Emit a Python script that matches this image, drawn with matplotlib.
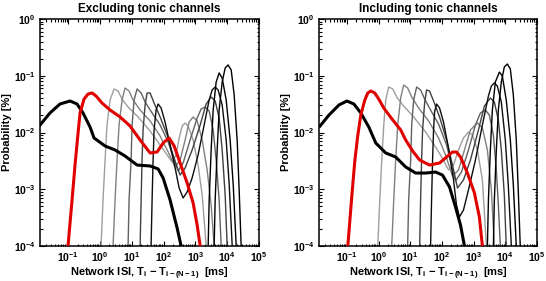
"""
Network ISI distributions, with and without tonic channels.
"""

import matplotlib
matplotlib.use('Agg')
import matplotlib.pyplot as plt
from matplotlib.ticker import FixedLocator, FixedFormatter, LogLocator, NullFormatter

plt.rcParams['font.family'] = ['Liberation Sans', 'DejaVu Sans']
plt.rcParams['font.weight'] = 'bold'
plt.rcParams['mathtext.fontset'] = 'custom'
plt.rcParams['mathtext.rm'] = 'Liberation Sans:bold'
plt.rcParams['mathtext.it'] = 'Liberation Sans:bold'
plt.rcParams['mathtext.bf'] = 'Liberation Sans:bold'

titles = ['Excluding tonic channels', 'Including tonic channels']
x_ticks = [1e-1, 1e0, 1e1, 1e2, 1e3, 1e4, 1e5]
x_tick_labels = ['$10^{-1}$', '$10^{0}$', '$10^{1}$', '$10^{2}$', '$10^{3}$', '$10^{4}$', '$10^{5}$']
y_ticks = [1e-4, 1e-3, 1e-2, 1e-1, 1e0]
y_tick_labels = ['$10^{-4}$', '$10^{-3}$', '$10^{-2}$', '$10^{-1}$', '$10^{0}$']

# ---- Excluding tonic channels ----
black_ex_x = [0.0132, 0.0272, 0.0561, 0.116, 0.192, 0.296, 0.492, 0.658, 1.46, 3.01, 6.21,
              14.8, 37.9, 67.8, 97.3, 161, 268, 358]
black_ex_y = [0.01355, 0.0221, 0.0318, 0.0359, 0.0318, 0.0221, 0.0125, 0.0080, 0.00578, 0.00492,
              0.00385, 0.00267, 0.00257, 0.00228, 0.00158, 6.47e-4, 2.07e-4, 1e-4]

red_ex_x = [0.100, 0.134, 0.166, 0.207, 0.239, 0.319, 0.426, 0.569, 0.760, 1.17, 2.09, 4.32,
            8.91, 18.4, 37.9, 63.0, 97.3, 150, 216, 333, 553, 853, 1140, 1420]
red_ex_y = [1e-4, 6.47e-4, 2.67e-3, 9.8e-3, 0.0221, 0.0389, 0.0476, 0.0497, 0.0440, 0.0331,
            0.0249, 0.0188, 0.0130, 0.00738, 0.00436, 0.00453, 0.00653, 0.0080, 0.00578,
            0.00290, 0.00129, 5.73e-4, 2.34e-4, 1e-4]

gray_ex_x = [
    [1.09, 1.26, 1.46, 1.68, 2.09, 2.80, 3.73, 4.99, 7.70, 15.9, 37.9, 78.2, 130, 186, 249, 310,
     385, 478, 594, 853, 1220, 1640, 2190],
    [2.60, 3.01, 3.47, 4.02, 4.99, 6.19, 8.28, 11.1, 18.4, 37.9, 78.2, 140, 232, 333, 478, 638,
     853, 1140, 1640, 2350, 3140, 3900],
    [7.71, 8.28, 9.58, 10.3, 11.9, 14.8, 19.8, 26.4, 43.8, 78.2, 140, 215, 288, 413, 686, 1140,
     1520, 2030, 2720, 3630, 4510, 5600, 6480],
    [18.4, 19.8, 21.2, 22.8, 26.4, 30.5, 37.9, 50.6, 78.2, 130, 200, 268, 333, 478, 792, 1420,
     2190, 3140, 4200, 5600, 6970, 8650, 10000],
    [40.7, 43.8, 47.1, 50.6, 58.5, 67.6, 84.1, 112, 161, 232, 310, 413, 552, 792, 1220, 1890,
     2720, 3370, 4200, 5210, 6970, 9310, 11600, 14400],
    [2530, 2720, 3140, 3630, 4510, 5600, 6970, 9310, 12400, 15500, 19200],
    [3900, 4200, 4850, 5600, 6970, 8650, 10700, 13400, 16600, 20600, 23800, 27500],
]
gray_ex_y = [
    [1e-4, 6.47e-4, 3.27e-3, 0.01355, 0.0374, 0.0585, 0.0539, 0.0389, 0.0281, 0.0188, 0.0106,
     6.02e-3, 4.01e-3, 3.02e-3, 4.01e-3, 8.0e-3, 0.0130, 0.0147, 0.0130, 7.38e-3, 2.67e-3,
     7.92e-4, 1e-4],
    [1e-4, 6.47e-4, 3.27e-3, 0.01355, 0.0374, 0.0608, 0.0539, 0.0374, 0.0249, 0.0160, 8.67e-3,
     4.53e-3, 2.47e-3, 3.27e-3, 7.38e-3, 0.0153, 0.0188, 0.0160, 7.38e-3, 2.18e-3, 5.28e-4, 1e-4],
    [1e-4, 6.47e-4, 3.27e-3, 0.01355, 0.0374, 0.0585, 0.0497, 0.0345, 0.0221, 0.01355, 6.8e-3,
     3.27e-3, 2.10e-3, 2.90e-3, 7.38e-3, 0.0180, 0.0259, 0.0281, 0.0239, 0.0111, 3.27e-3,
     6.47e-4, 1e-4],
    [1e-4, 6.47e-4, 3.27e-3, 0.0111, 0.0305, 0.0497, 0.0497, 0.0331, 0.0188, 9.04e-3, 4.01e-3,
     2.47e-3, 1.78e-3, 2.37e-3, 4.92e-3, 0.01355, 0.0318, 0.0422, 0.0359, 0.0180, 4.92e-3,
     7.92e-4, 1e-4],
    [1e-4, 6.47e-4, 3.27e-3, 0.0111, 0.0249, 0.0318, 0.0270, 0.0153, 6.02e-3, 2.37e-3, 1.05e-3,
     7.01e-4, 8.95e-4, 1.58e-3, 4.01e-3, 0.01355, 0.0374, 0.0561, 0.0633, 0.0561, 0.0305,
     7.38e-3, 1.19e-3, 1e-4],
    [1e-4, 6.47e-4, 4.92e-3, 0.0249, 0.0776, 0.112, 0.0913, 0.0374, 7.38e-3, 1.19e-3, 1e-4],
    [1e-4, 6.47e-4, 4.92e-3, 0.0249, 0.0776, 0.137, 0.155, 0.126, 0.0458, 7.38e-3, 9.7e-4, 1e-4],
]

# ---- Including tonic channels ----
black_in_x = [0.0142, 0.0272, 0.0560, 0.100, 0.166, 0.275, 0.492, 0.816, 1.68, 3.47, 7.16,
              14.8, 30.5, 63.0, 104, 173, 268, 385, 514]
black_in_y = [0.0130, 0.0203, 0.0305, 0.0359, 0.0318, 0.0221, 0.0125, 6.53e-3, 4.36e-3, 3.70e-3,
              2.47e-3, 1.93e-3, 1.93e-3, 2.01e-3, 1.78e-3, 1.10e-3, 4.87e-4, 2.34e-4, 1e-4]

red_in_x = [0.107, 0.144, 0.179, 0.222, 0.275, 0.368, 0.457, 0.569, 0.760, 1.01, 1.46, 2.80,
            4.99, 7.16, 11.9, 19.8, 40.7, 84.1, 140, 215, 288, 385, 638, 1060, 1520, 1890]
red_in_y = [1e-4, 7.92e-4, 3.27e-3, 9.04e-3, 0.0203, 0.0374, 0.0497, 0.0539, 0.0497, 0.0389,
            0.0270, 0.0166, 0.0111, 7.38e-3, 4.72e-3, 3.27e-3, 2.67e-3, 2.90e-3, 3.70e-3,
            4.53e-3, 4.53e-3, 3.70e-3, 1.93e-3, 8.59e-4, 3.24e-4, 1e-4]

gray_in_x = [
    [0.944, 1.09, 1.26, 1.46, 1.68, 2.09, 2.80, 3.73, 6.19, 12.8, 30.5, 63.0, 112, 161, 232, 333,
     478, 686, 916, 1320, 1890, 2530],
    [2.60, 3.01, 3.47, 4.02, 4.99, 6.19, 8.28, 11.1, 18.4, 37.9, 78.2, 130, 215, 333, 514, 792,
     1320, 1890, 2720, 3630, 4510],
    [8.28, 8.91, 10.3, 11.1, 12.8, 15.9, 21.2, 28.4, 43.8, 78.2, 140, 200, 268, 413, 686, 1140,
     1640, 2350, 3140, 4200, 5210, 6030, 6970],
    [19.8, 21.2, 22.8, 24.5, 28.4, 32.8, 40.7, 54.4, 84.1, 140, 215, 310, 478, 792, 1420, 2190,
     3370, 4510, 6030, 7480, 9310, 10700],
    [43.8, 47.1, 50.6, 54.4, 58.5, 67.6, 84.1, 112, 161, 232, 288, 357, 478, 686, 1140, 1890,
     2930, 3630, 4510, 5600, 7480, 10000, 12400, 15500],
    [2720, 2930, 3370, 3900, 4850, 6480, 8050, 10700, 14400, 17900, 22200],
    [4200, 4510, 5210, 6030, 7480, 9310, 11600, 14400, 17900, 22200, 25600, 29600],
]
gray_in_y = [
    [1e-4, 6.47e-4, 3.27e-3, 0.01355, 0.0374, 0.0633, 0.0585, 0.0422, 0.0293, 0.0188, 0.0102,
     5.55e-3, 3.27e-3, 2.18e-3, 2.67e-3, 4.92e-3, 8.0e-3, 0.0102, 9.04e-3, 4.92e-3, 1.46e-3, 1e-4],
    [1e-4, 6.47e-4, 3.27e-3, 0.01355, 0.0406, 0.0687, 0.0608, 0.0422, 0.0270, 0.0160, 8.0e-3,
     4.01e-3, 1.71e-3, 2.18e-3, 4.92e-3, 0.0111, 0.0147, 0.0120, 4.92e-3, 9.7e-4, 1e-4],
    [1e-4, 6.47e-4, 3.27e-3, 0.01355, 0.0374, 0.0633, 0.0561, 0.0389, 0.0249, 0.0141, 6.02e-3,
     2.67e-3, 1.40e-3, 2.01e-3, 4.92e-3, 0.01355, 0.0221, 0.0249, 0.0203, 9.04e-3, 2.18e-3,
     5.28e-4, 1e-4],
    [1e-4, 6.47e-4, 3.27e-3, 0.0111, 0.0331, 0.0561, 0.0539, 0.0359, 0.0188, 7.38e-3, 2.67e-3,
     1.05e-3, 1.46e-3, 3.27e-3, 0.0111, 0.0293, 0.0406, 0.0345, 0.0166, 4.92e-3, 7.92e-4, 1e-4],
    [1e-4, 6.47e-4, 3.27e-3, 0.0111, 0.0230, 0.0318, 0.0270, 0.0153, 5.33e-3, 1.46e-3, 5.28e-4,
     3.24e-4, 4.31e-4, 9.7e-4, 3.27e-3, 0.01355, 0.0440, 0.0660, 0.0745, 0.0660, 0.0345,
     7.38e-3, 1.19e-3, 1e-4],
    [1e-4, 6.47e-4, 4.92e-3, 0.0249, 0.0776, 0.116, 0.0990, 0.0374, 7.38e-3, 1.19e-3, 1e-4],
    [1e-4, 6.47e-4, 4.92e-3, 0.0249, 0.0776, 0.143, 0.161, 0.132, 0.0458, 7.38e-3, 9.7e-4, 1e-4],
]

gray_shades = ['0.62', '0.5', '0.38', '0.25', '0.05', '0.0', '0.0']


def draw_panel(ax, title, gray_x, gray_y, red_x, red_y, black_x, black_y):
    """Draw one ISI panel on a log-log axis."""
    for gx, gy, shade in zip(gray_x, gray_y, gray_shades):
        ax.plot(gx, gy, color=shade, linewidth=1.0, zorder=2)
    ax.plot(black_x, black_y, color='black', linewidth=2.2, zorder=3)
    ax.plot(red_x, red_y, color='#e00000', linewidth=2.2, zorder=4)

    ax.set_xscale('log')
    ax.set_yscale('log')
    ax.set_xlim(10 ** -1.88, 1e5)
    ax.set_ylim(1e-4, 1e0)

    ax.xaxis.set_major_locator(FixedLocator(x_ticks))
    ax.xaxis.set_major_formatter(FixedFormatter(x_tick_labels))
    ax.yaxis.set_major_locator(FixedLocator(y_ticks))
    ax.yaxis.set_major_formatter(FixedFormatter(y_tick_labels))
    for axis in (ax.xaxis, ax.yaxis):
        axis.set_minor_locator(LogLocator(base=10, subs=range(2, 10), numticks=20))
        axis.set_minor_formatter(NullFormatter())
    ax.tick_params(which='both', direction='in', top=True, right=True, labelsize=7.5, width=0.8)
    ax.tick_params(which='major', length=3.5, pad=3)
    ax.tick_params(which='minor', length=1.8)
    for spine in ax.spines.values():
        spine.set_linewidth(1.1)

    ax.set_title(title, fontsize=8.5, fontweight='bold', pad=5)
    ax.set_xlabel('Network ISI, T$_{i}$ $-$ T$_{i-(N-1)}$  [ms]', fontsize=8,
                  fontweight='bold')
    ax.xaxis.set_label_coords(0.5, -0.085, transform=ax.transAxes)
    ax.set_ylabel('Probability [%]', fontsize=8, fontweight='bold')
    ax.yaxis.set_label_coords(-0.128, 0.5, transform=ax.transAxes)


fig = plt.figure(figsize=(5.46, 2.81), dpi=100)
ax_left = fig.add_axes([40 / 546, 35 / 281, 219 / 546, 227 / 281])
ax_right = fig.add_axes([319 / 546, 35 / 281, 218 / 546, 227 / 281])

draw_panel(ax_left, titles[0], gray_ex_x, gray_ex_y, red_ex_x, red_ex_y, black_ex_x, black_ex_y)
draw_panel(ax_right, titles[1], gray_in_x, gray_in_y, red_in_x, red_in_y, black_in_x, black_in_y)

fig.savefig('out.png', dpi=100)
